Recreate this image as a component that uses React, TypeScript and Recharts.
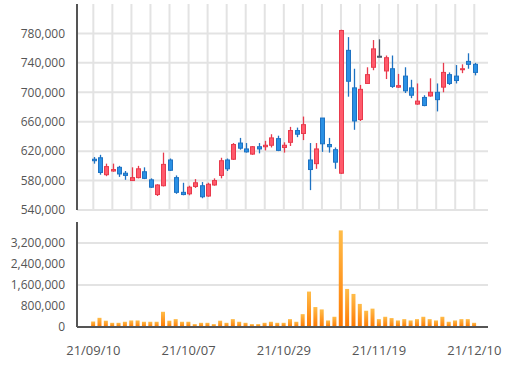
import { Bar, BarChart, CartesianGrid, ComposedChart, XAxis, YAxis } from "recharts"

const dates = [
  "21/09/10", "21/09/13", "21/09/14", "21/09/15", "21/09/16", "21/09/17", "21/09/23", "21/09/24",
  "21/09/27", "21/09/28", "21/09/29", "21/09/30", "21/10/01", "21/10/05", "21/10/06", "21/10/07",
  "21/10/08", "21/10/12", "21/10/13", "21/10/14", "21/10/15", "21/10/18", "21/10/19", "21/10/20",
  "21/10/21", "21/10/22", "21/10/25", "21/10/26", "21/10/27", "21/10/28", "21/10/29", "21/11/01",
  "21/11/02", "21/11/03", "21/11/04", "21/11/05", "21/11/08", "21/11/09", "21/11/10", "21/11/11",
  "21/11/12", "21/11/15", "21/11/16", "21/11/17", "21/11/18", "21/11/19", "21/11/22", "21/11/23",
  "21/11/24", "21/11/25", "21/11/26", "21/11/29", "21/11/30", "21/12/01", "21/12/02", "21/12/03",
  "21/12/06", "21/12/07", "21/12/08", "21/12/09", "21/12/10",
]

const opens = [
  609000, 611000, 588000, 593000, 598000, 590000, 580000, 584000, 592000, 581000,
  561000, 573000, 608000, 584000, 564000, 562000, 572000, 573000, 559000, 574000,
  587000, 608000, 609000, 631000, 623000, 616000, 626000, 626000, 628000, 637000,
  625000, 632000, 648000, 644000, 608000, 603000, 665000, 629000, 622000, 590000,
  757000, 706000, 663000, 712000, 734000, 749000, 729000, 732000, 707000, 722000,
  706000, 684000, 693000, 695000, 700000, 707000, 724000, 722000, 731000, 742000,
  738000,
]
const highs = [
  612000, 615000, 603000, 603000, 600000, 593000, 598000, 600000, 598000, 583000,
  575000, 618000, 610000, 587000, 577000, 573000, 582000, 578000, 577000, 583000,
  611000, 610000, 631000, 638000, 631000, 627000, 631000, 634000, 643000, 641000,
  632000, 653000, 652000, 667000, 631000, 631000, 665000, 638000, 625000, 785000,
  775000, 732000, 710000, 734000, 771000, 772000, 750000, 750000, 725000, 734000,
  717000, 712000, 696000, 719000, 712000, 740000, 727000, 737000, 738000, 753000,
  740000,
]
const lows = [
  603000, 588000, 586000, 592000, 585000, 581000, 580000, 583000, 582000, 570000,
  559000, 572000, 593000, 562000, 560000, 560000, 570000, 556000, 558000, 573000,
  583000, 593000, 608000, 622000, 618000, 615000, 617000, 621000, 625000, 620000,
  618000, 627000, 639000, 635000, 567000, 596000, 619000, 618000, 596000, 589000,
  694000, 649000, 661000, 712000, 730000, 748000, 718000, 706000, 706000, 699000,
  692000, 683000, 681000, 694000, 674000, 700000, 710000, 712000, 726000, 732000,
  723000,
]
const closes = [
  607000, 591000, 599000, 595000, 589000, 587000, 584000, 596000, 583000, 571000,
  574000, 602000, 594000, 564000, 561000, 571000, 577000, 558000, 575000, 580000,
  607000, 596000, 629000, 624000, 619000, 626000, 623000, 628000, 638000, 621000,
  628000, 648000, 643000, 656000, 595000, 623000, 630000, 626000, 605000, 784000,
  715000, 661000, 704000, 724000, 759000, 749000, 747000, 708000, 709000, 702000,
  696000, 688000, 682000, 700000, 690000, 727000, 712000, 716000, 732000, 738000,
  727000,
]
const volumes = [
  210000, 350000, 240000, 160000, 160000, 200000, 250000, 250000, 200000, 200000,
  200000, 580000, 240000, 300000, 200000, 200000, 110000, 160000, 160000, 110000,
  240000, 160000, 300000, 200000, 160000, 110000, 110000, 160000, 200000, 160000,
  160000, 300000, 200000, 490000, 1350000, 760000, 670000, 250000, 390000, 3680000,
  1450000, 1260000, 880000, 620000, 700000, 300000, 390000, 340000, 250000, 300000,
  250000, 300000, 390000, 300000, 250000, 390000, 200000, 250000, 300000, 300000,
  160000,
]

const priceTicks = [540000, 580000, 620000, 660000, 700000, 740000, 780000]
const volumeTicks = [0, 800000, 1600000, 2400000, 3200000]
const gridTicks = [0, 3, 6, 9, 12, 15, 18, 21, 24, 27, 30, 33, 36, 39, 42, 45, 48, 51, 54, 57, 60]
const labelTicks = [0, 15, 30, 45, 60]

const data = dates.map((date, i) => ({
  i,
  date,
  open: opens[i],
  high: highs[i],
  low: lows[i],
  close: closes[i],
  range: [lows[i], highs[i]],
  volume: volumes[i],
}))

const xDomain = [-2.57, 62.16]
const font = "'Open Sans', sans-serif"
const fmt = (v: number) => v.toLocaleString("en-US")

function Candle(props: any) {
  const { x, y, width, height, payload } = props
  const { open, close, high, low } = payload
  const cx = Math.round(x + width / 2) + 0.5
  const k = high === low ? 0 : height / (high - low)
  const yO = y + (high - open) * k
  const yC = y + (high - close) * k
  const top = Math.min(yO, yC)
  const h = Math.max(Math.abs(yO - yC), 1)
  const up = close > open
  const down = close < open
  const fill = up ? "#ff5a6b" : down ? "#2a90e4" : "#4a5868"
  const stroke = up ? "#e83a4c" : down ? "#1e72c2" : "#4a5868"
  return (
    <g>
      <line x1={cx} x2={cx} y1={y} y2={y + height} stroke={stroke} strokeWidth={1.3} />
      <rect x={cx - 2} y={top} width={4} height={h} fill={fill} stroke={stroke} strokeWidth={1} />
    </g>
  )
}

export default function App() {
  return (
    <div style={{ position: "absolute", left: 0, top: 0, width: 512, height: 370, background: "#fff", fontFamily: font }}>
      <div style={{ position: "absolute", left: 0, top: 0 }}>
        <ComposedChart width={512} height={222} data={data} margin={{ top: 4, right: 24, bottom: 12, left: 0 }}>
          <CartesianGrid stroke="#e3e3e3" strokeWidth={2} syncWithTicks />
          <XAxis
            dataKey="i"
            type="number"
            domain={xDomain}
            allowDataOverflow
            ticks={gridTicks}
            interval={0}
            tickFormatter={() => ""}
            tickLine={false}
            height={0}
            axisLine={{ stroke: "#555", strokeWidth: 2 }}
          />
          <YAxis
            domain={[540000, 820000]}
            allowDataOverflow
            ticks={priceTicks}
            width={77}
            tickFormatter={fmt}
            tickLine={false}
            tickMargin={6}
            axisLine={{ stroke: "#555", strokeWidth: 2 }}
            tick={{ fill: "#555", fontSize: 12, fontFamily: font }}
          />
          <Bar dataKey="range" barSize={5} isAnimationActive={false} shape={(p: any) => <Candle {...p} />} />
        </ComposedChart>
      </div>
      <div style={{ position: "absolute", left: 0, top: 212 }}>
        <BarChart width={512} height={158} data={data} margin={{ top: 10, right: 24, bottom: 13, left: 0 }}>
          <defs>
            <linearGradient id="volFill" x1="0" y1="0" x2="0" y2="1">
              <stop offset="0%" stopColor="#ffbd4a" />
              <stop offset="100%" stopColor="#ff7800" />
            </linearGradient>
          </defs>
          <CartesianGrid stroke="#e3e3e3" strokeWidth={2} vertical={false} syncWithTicks />
          <XAxis
            dataKey="i"
            type="number"
            domain={xDomain}
            allowDataOverflow
            ticks={labelTicks}
            tickFormatter={(v: number) => dates[v]}
            tickLine={false}
            tickMargin={13}
            height={30}
            axisLine={{ stroke: "#555", strokeWidth: 2 }}
            tick={{ fill: "#555", fontSize: 13, fontFamily: font }}
          />
          <YAxis
            domain={[0, 4000000]}
            allowDataOverflow
            ticks={volumeTicks}
            width={77}
            tickFormatter={fmt}
            tickLine={false}
            tickMargin={6}
            axisLine={{ stroke: "#555", strokeWidth: 2 }}
            tick={{ fill: "#555", fontSize: 12, fontFamily: font }}
          />
          <Bar dataKey="volume" fill="url(#volFill)" barSize={4} isAnimationActive={false} />
        </BarChart>
      </div>
    </div>
  )
}
